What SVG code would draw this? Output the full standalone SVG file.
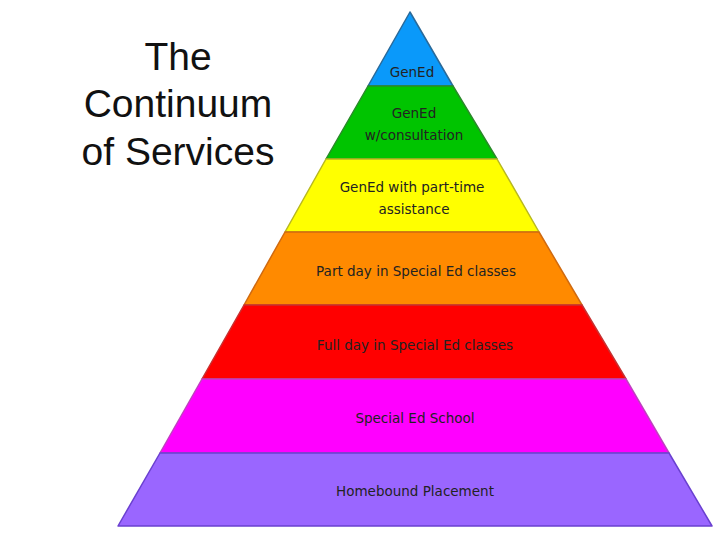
<svg xmlns="http://www.w3.org/2000/svg" width="728" height="546" viewBox="0 0 728 546">
<style>
.l{stroke-width:1.5;stroke-linejoin:round}
.t{font-family:"DejaVu Sans",Verdana,sans-serif;font-size:13.5px;fill:#222;text-anchor:middle}
.h{font-family:"Liberation Sans",Arial,sans-serif;font-size:39px;fill:#111;text-anchor:middle}
</style>
<rect width="728" height="546" fill="#fff"/>
<g id="title"><text class="h" x="178" y="70">The</text><text class="h" x="178" y="117">Continuum</text><text class="h" x="178" y="165">of Services</text></g>
<g id="n1"><polygon class="l" points="410,12 368,86 453,86" fill="#0a99fa" stroke="#2a6a9a"/><text class="t" x="412" y="77">GenEd</text></g>
<g id="n2"><polygon class="l" points="368,86 453,86 497,159 326,159" fill="#00c400" stroke="#2a8a2a"/><text class="t" x="414" y="118">GenEd</text><text class="t" x="414" y="140">w/consultation</text></g>
<g id="n3"><polygon class="l" points="326,159 497,159 539,232 285,232" fill="#ffff00" stroke="#b8b820"/><text class="t" x="412" y="192">GenEd with part-time</text><text class="t" x="414" y="214">assistance</text></g>
<g id="n4"><polygon class="l" points="285,232 539,232 582,305 244,305" fill="#ff8a00" stroke="#d06a10"/><text class="t" x="416" y="276">Part day in Special Ed classes</text></g>
<g id="n5"><polygon class="l" points="244,305 582,305 626,379 202,379" fill="#ff0000" stroke="#c83030"/><text class="t" x="415" y="350">Full day in Special Ed classes</text></g>
<g id="n6"><polygon class="l" points="202,379 626,379 669,453 160,453" fill="#ff00ff" stroke="#c040c0"/><text class="t" x="415" y="423">Special Ed School</text></g>
<g id="n7"><polygon class="l" points="160,453 669,453 712,526 118,526" fill="#9a66ff" stroke="#6a40d0"/><text class="t" x="415" y="496">Homebound Placement</text></g>
<g id="connectors"/>
</svg>
